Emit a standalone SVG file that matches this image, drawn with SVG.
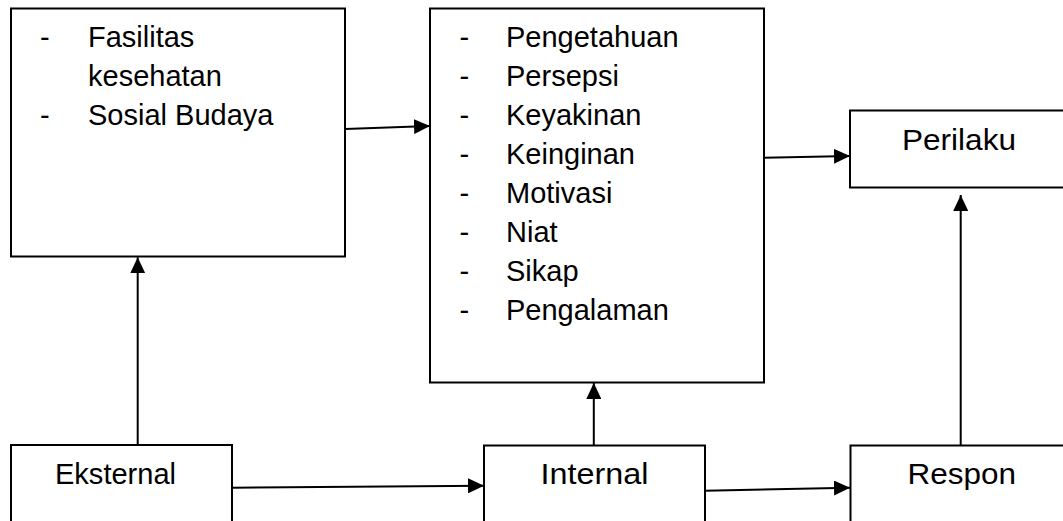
<svg xmlns="http://www.w3.org/2000/svg" width="1063" height="521" viewBox="0 0 1063 521">
<style>
.box{fill:#fff;stroke:#000;stroke-width:2}
.t{font-family:"Liberation Sans",Arial,sans-serif;font-size:29px;fill:#000}
.lbl{font-family:"Liberation Sans",Arial,sans-serif;font-size:30px;fill:#000}
.c{fill:none;stroke:#000;stroke-width:2}
</style>
<defs>
<marker id="ah" markerUnits="userSpaceOnUse" markerWidth="16" markerHeight="15" refX="16" refY="7.5" orient="auto">
<path d="M0,0 L16,7.5 L0,15 z" fill="#000"/>
</marker>
</defs>
<rect width="1063" height="521" fill="#fff"/>
<g id="faktor-luar">
<rect class="box" x="11" y="8.5" width="334" height="248"/>
<text class="t" x="40" y="47">-</text>
<text class="t" x="88" y="47">Fasilitas</text>
<text class="t" x="88" y="86">kesehatan</text>
<text class="t" x="40" y="125">-</text>
<text class="t" x="88" y="125">Sosial Budaya</text>
</g>
<g id="faktor-dalam">
<rect class="box" x="430" y="8.5" width="334" height="374"/>
<g class="t">
<text x="459.5" y="47">-</text><text x="506" y="47">Pengetahuan</text>
<text x="459.5" y="86">-</text><text x="506" y="86">Persepsi</text>
<text x="459.5" y="125">-</text><text x="506" y="125">Keyakinan</text>
<text x="459.5" y="164">-</text><text x="506" y="164">Keinginan</text>
<text x="459.5" y="203">-</text><text x="506" y="203">Motivasi</text>
<text x="459.5" y="242">-</text><text x="506" y="242">Niat</text>
<text x="459.5" y="281">-</text><text x="506" y="281">Sikap</text>
<text x="459.5" y="320">-</text><text x="506" y="320">Pengalaman</text>
</g>
</g>
<g id="perilaku">
<rect class="box" x="850" y="110.5" width="220" height="77"/>
<text class="lbl" x="902" y="150" font-size="31" textLength="114" lengthAdjust="spacingAndGlyphs">Perilaku</text>
</g>
<g id="eksternal">
<rect class="box" x="11" y="445" width="221" height="100"/>
<text class="lbl" x="55" y="483.5" textLength="121" lengthAdjust="spacingAndGlyphs">Eksternal</text>
</g>
<g id="internal">
<rect class="box" x="484" y="445.5" width="221" height="100"/>
<text class="lbl" x="540.5" y="483.5" textLength="108" lengthAdjust="spacingAndGlyphs">Internal</text>
</g>
<g id="respon">
<rect class="box" x="850.5" y="445.5" width="220" height="100"/>
<text class="lbl" x="907.5" y="483.5" textLength="108.5" lengthAdjust="spacingAndGlyphs">Respon</text>
</g>
<g id="connectors">
<path class="c" d="M345,129 L430,126" marker-end="url(#ah)"/>
<path class="c" d="M764,157.7 L850,156" marker-end="url(#ah)"/>
<path class="c" d="M232,487.7 L484,485.7" marker-end="url(#ah)"/>
<path class="c" d="M705,490.7 L850,487.7" marker-end="url(#ah)"/>
<path class="c" d="M137.7,445 L137.7,257.3" marker-end="url(#ah)"/>
<path class="c" d="M593.8,445.5 L593.8,383" marker-end="url(#ah)"/>
<path class="c" d="M960.7,445.5 L960.7,195" marker-end="url(#ah)"/>
</g>
</svg>
